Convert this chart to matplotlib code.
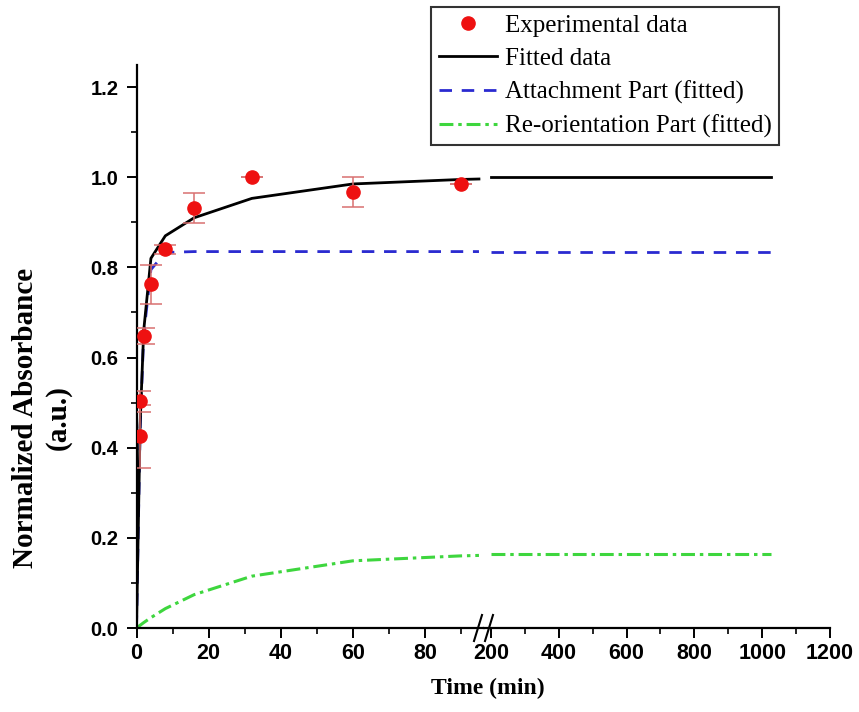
import matplotlib
matplotlib.use("Agg")
import matplotlib.pyplot as plt
from matplotlib.lines import Line2D
from matplotlib.ticker import MultipleLocator

plt.rcParams['lines.scale_dashes'] = False

# Experimental points
exp_t = [1, 1, 2, 4, 8, 16, 32, 60, 90]
exp_y = [0.425, 0.503, 0.647, 0.762, 0.840, 0.932, 1.000, 0.968, 0.986]
exp_err = [0.07, 0.023, 0.018, 0.043, 0.010, 0.033, 0.0, 0.033, 0.0]

# Fitted curves, short-time segment (0-95 min)
fit_t = [0, 1, 2, 4, 8, 16, 32, 60, 90, 95]
fit_total = [0, 0.45, 0.66, 0.82, 0.87, 0.91, 0.953, 0.985, 0.995, 0.996]
fit_attach = [0, 0.44, 0.65, 0.795, 0.833, 0.835, 0.835, 0.835, 0.835, 0.835]
fit_reorient = [0, 0.006, 0.012, 0.023, 0.043, 0.074, 0.115, 0.149, 0.160, 0.161]

# Fitted curves, long-time segment (200-1025 min)
long_t = [200, 1025]
long_total = [1.0, 1.0]
long_attach = [0.835, 0.835]
long_reorient = [0.165, 0.165]

x_left_ticks = [0, 20, 40, 60, 80]
x_right_ticks = [200, 400, 600, 800, 1000, 1200]
y_ticks = [0.0, 0.2, 0.4, 0.6, 0.8, 1.0, 1.2]

W, H = 859, 712
fig = plt.figure(figsize=(W / 100, H / 100), dpi=100)

x0, xb, x1 = 136.5, 484, 830
ytop, ybot = 64.5, 628
ax1 = fig.add_axes([x0 / W, 1 - ybot / H, (xb - x0) / W, (ybot - ytop) / H])
ax2 = fig.add_axes([xb / W, 1 - ybot / H, (x1 - xb) / W, (ybot - ytop) / H])

blue = '#2a2ad0'
green = '#3ed63e'
red = '#ee1111'

for ax, t, tot, att, reo in [(ax1, fit_t, fit_total, fit_attach, fit_reorient),
                             (ax2, long_t, long_total, long_attach, long_reorient)]:
    ax.plot(t, reo, color=green, lw=2.2, dashes=(10, 3.5, 2.5, 3.5))
    ax.plot(t, att, color=blue, lw=2.0, dashes=(9, 7))
    ax.plot(t, tot, color='black', lw=2.0)
    ax.set_ylim(0, 1.25)
    for s in ['top', 'right']:
        ax.spines[s].set_visible(False)
    ax.spines['bottom'].set_linewidth(1.6)
    ax.spines['left'].set_linewidth(1.6)
    ax.tick_params(which='major', direction='out', length=7, width=1.4, pad=4)
    ax.tick_params(which='minor', direction='out', length=4, width=1.2)

ax1.errorbar(exp_t, exp_y, yerr=exp_err, fmt='o', color=red, ms=9.5,
             ecolor='#d87070', elinewidth=1.1, capsize=8, capthick=1.1, zorder=5)

ax1.set_xlim(0, 96.4)
ax1.set_xticks(x_left_ticks)
ax1.xaxis.set_minor_locator(MultipleLocator(10))
ax1.set_yticks(y_ticks)
ax1.set_yticklabels([f"{v:.1f}" for v in y_ticks])
ax1.yaxis.set_minor_locator(MultipleLocator(0.1))
ax1.tick_params(axis='y', which='major', pad=6)

ax2.set_xlim(179.7, 1200)
ax2.set_xticks(x_right_ticks)
ax2.xaxis.set_minor_locator(MultipleLocator(100))
ax2.spines['left'].set_visible(False)
ax2.tick_params(axis='y', which='both', left=False, labelleft=False)

tick_font = dict(family='Liberation Sans', weight='bold')
for lab in ax1.get_xticklabels() + ax2.get_xticklabels():
    lab.set(**tick_font, size=15.5)
for lab in ax1.get_yticklabels():
    lab.set(**tick_font, size=14.5)

# axis break marks
for dx in (-6, 5):
    fig.add_artist(Line2D([(xb + dx - 4) / W, (xb + dx + 4) / W],
                          [1 - (ybot + 13) / H, 1 - (ybot - 13) / H],
                          color='black', lw=1.5))

serif = ['Liberation Serif', 'DejaVu Serif']
fig.text(42 / W, 1 - 418 / H, "Normalized Absorbance\n(a.u.)", rotation=90,
         ha='center', va='center', multialignment='center',
         family=serif, weight='bold', size=21, linespacing=1.25)
fig.text(488 / W, 1 - 688 / H, "Time (min)", ha='center', va='center',
         family=serif, weight='bold', size=17)

handles = [
    Line2D([], [], ls='none', marker='o', color=red, ms=9.5),
    Line2D([], [], color='black', lw=2.0),
    Line2D([], [], color=blue, lw=2.0, dashes=(9, 7)),
    Line2D([], [], color=green, lw=2.2, dashes=(10, 3.5, 2.5, 3.5)),
]
labels = ["Experimental data", "Fitted data", "Attachment Part (fitted)",
          "Re-orientation Part (fitted)"]
leg = fig.legend(handles, labels, loc='upper left',
                 bbox_to_anchor=(431 / W, 1 - 7 / H), borderaxespad=0,
                 prop=dict(family=serif, size=18), frameon=True, fancybox=False,
                 edgecolor='black', handlelength=2.35, handletextpad=0.3,
                 borderpad=0.3, labelspacing=0.42)
leg.get_frame().set_linewidth(1.5)

fig.savefig("out.png", dpi=100)
